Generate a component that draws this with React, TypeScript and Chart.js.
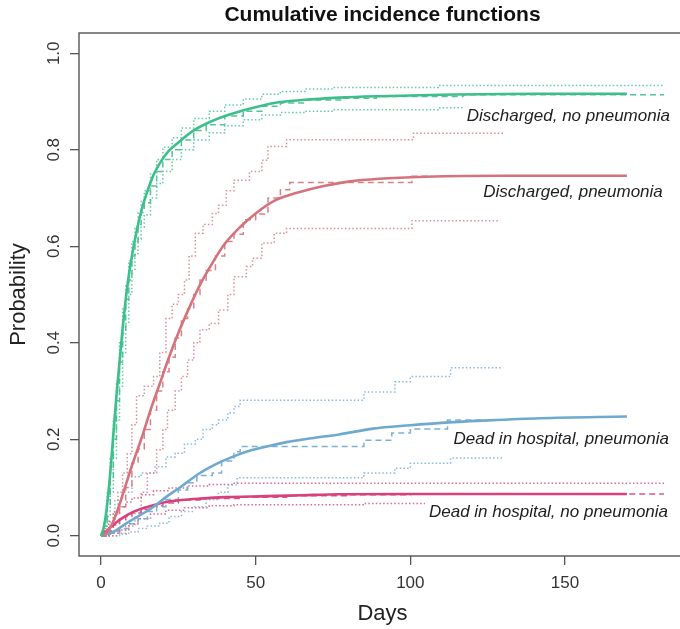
import { useEffect, useRef } from 'react';
import { Chart, registerables } from 'chart.js';

Chart.register(...registerables);

type Pt = [number, number];

const FONT = '"Liberation Sans", Arial, Helvetica, sans-serif';

const chartTitle = 'Cumulative incidence functions';
const xAxisTitle = 'Days';
const yAxisTitle = 'Probability';
const xTickValues = [0, 50, 100, 150];
const yTickValues = [0, 0.2, 0.4, 0.6, 0.8, 1.0];

// Discharged, no pneumonia (green)
const dischNoPneuModel: Pt[] = [[0,0],[1,0.02],[2,0.065],[3,0.13],[4,0.21],[5,0.29],[6,0.36],[7,0.43],[8,0.49],[9,0.54],[10,0.58],[11.5,0.63],[13,0.672],[14.8,0.71],[17,0.748],[19.6,0.778],[22,0.798],[25,0.815],[30,0.84],[35,0.857],[41,0.872],[48,0.885],[56,0.897],[65,0.903],[77,0.908],[90,0.911],[110,0.914],[140,0.916],[170,0.916]];
const dischNoPneuAJ: Pt[] = [[0,0],[1,0.02],[2,0.06],[3,0.12],[4,0.2],[5,0.28],[6,0.36],[7,0.42],[8,0.49],[9,0.53],[10,0.58],[11,0.61],[12,0.645],[13,0.67],[14,0.69],[16,0.725],[18,0.755],[20,0.78],[23,0.8],[26,0.82],[30,0.84],[34,0.852],[40,0.87],[46,0.88],[52,0.89],[58,0.897],[66,0.903],[78,0.907],[89,0.9105],[117,0.914],[182,0.914]];
const dischNoPneuUpper: Pt[] = [[0,0],[1,0.03],[2,0.09],[3,0.16],[4,0.24],[5,0.32],[6,0.4],[7,0.47],[8,0.52],[9,0.57],[10,0.61],[11,0.64],[12,0.67],[13,0.695],[14,0.715],[16,0.75],[18,0.78],[20,0.805],[23,0.825],[26,0.845],[30,0.865],[35,0.88],[40,0.893],[46,0.905],[52,0.915],[58,0.921],[66,0.926],[75,0.929],[109,0.933],[182,0.933]];
const dischNoPneuLower: Pt[] = [[0,0],[1,0.005],[2,0.04],[3,0.09],[4,0.16],[5,0.24],[6,0.31],[7,0.38],[8,0.44],[9,0.5],[10,0.55],[11,0.585],[12,0.615],[13,0.64],[14,0.665],[16,0.7],[18,0.73],[20,0.755],[23,0.78],[26,0.8],[30,0.82],[35,0.835],[40,0.85],[46,0.862],[52,0.872],[58,0.877],[66,0.88],[75,0.883],[109,0.887],[182,0.887]];

// Discharged, pneumonia (red)
const dischPneuModel: Pt[] = [[0,0],[2,0.008],[4,0.03],[6,0.065],[8,0.105],[10,0.145],[13,0.2],[16,0.26],[19,0.315],[22,0.37],[25,0.42],[28,0.465],[32,0.52],[36,0.565],[40,0.605],[45,0.64],[50,0.668],[56,0.694],[64,0.712],[72,0.725],[80,0.734],[90,0.74],[105,0.744],[130,0.746],[170,0.746]];
const dischPneuAJ: Pt[] = [[0,0],[3,0.01],[6,0.06],[8,0.1],[10,0.15],[12,0.18],[14,0.22],[16,0.26],[18,0.3],[20,0.34],[22,0.37],[24,0.41],[26,0.45],[28,0.47],[30,0.5],[32,0.53],[34,0.55],[37,0.58],[40,0.61],[43,0.625],[46,0.655],[50,0.667],[54,0.7],[58,0.717],[61,0.732],[100.5,0.745],[107,0.745]];
const dischPneuUpper: Pt[] = [[0,0],[2.5,0.02],[4,0.05],[5.5,0.09],[7,0.13],[8.5,0.17],[10,0.23],[11.5,0.29],[14,0.31],[17,0.33],[19,0.38],[21,0.45],[23,0.48],[25,0.5],[27,0.53],[28.5,0.58],[30.5,0.627],[33,0.645],[36,0.668],[38,0.685],[40.5,0.715],[43,0.737],[48,0.755],[52,0.778],[54,0.807],[60,0.821],[101,0.834],[130,0.834]];
const dischPneuLower: Pt[] = [[0,0],[5,0.005],[8,0.02],[11,0.05],[13,0.09],[15,0.13],[18,0.178],[20,0.22],[21.5,0.26],[24,0.3],[26,0.33],[28,0.364],[30,0.4],[32,0.427],[35,0.44],[38,0.468],[41,0.5],[43,0.537],[47,0.558],[49,0.575],[52,0.607],[56,0.627],[60,0.637],[100.5,0.653],[129,0.653]];

// Dead in hospital, pneumonia (blue)
const deadPneuModel: Pt[] = [[0,0],[4,0.008],[8.3,0.026],[12,0.04],[17,0.06],[21,0.08],[25.5,0.1],[32,0.13],[37,0.148],[42.7,0.164],[48,0.176],[53.6,0.185],[60,0.194],[68,0.202],[77,0.21],[88,0.222],[100,0.229],[110,0.234],[125,0.239],[142,0.2435],[170,0.247]];
const deadPneuAJ: Pt[] = [[0,0],[3,0.005],[6,0.015],[9,0.025],[12,0.035],[15,0.05],[18,0.06],[21,0.075],[25,0.095],[28,0.11],[31,0.125],[36,0.13],[39,0.155],[43,0.174],[45,0.185],[85,0.198],[94,0.213],[100,0.221],[112,0.24],[130,0.24]];
const deadPneuUpper: Pt[] = [[0,0],[2,0.01],[3,0.03],[4.5,0.074],[7,0.09],[10,0.122],[13,0.13],[17.5,0.143],[21,0.163],[24,0.171],[27,0.19],[30.5,0.2],[33,0.22],[36,0.23],[38,0.24],[41,0.255],[43,0.268],[45,0.281],[85,0.298],[95,0.319],[100,0.33],[113,0.348],[130,0.348]];
const deadPneuLower: Pt[] = [[0,0],[6,0.003],[9,0.008],[12,0.015],[15,0.02],[19,0.026],[22,0.04],[26,0.05],[29.5,0.06],[34,0.075],[38,0.09],[41,0.105],[44,0.12],[85,0.13],[95,0.14],[100,0.15],[113,0.161],[130,0.161]];

// Dead in hospital, no pneumonia (pink)
const deadNoPneuModel: Pt[] = [[0,0],[1.5,0.008],[3,0.017],[5,0.028],[7,0.037],[9,0.045],[11,0.051],[14,0.058],[18,0.065],[21,0.07],[26,0.074],[32,0.077],[40,0.08],[53.6,0.082],[65,0.084],[77,0.086],[100,0.0865],[170,0.0865]];
const deadNoPneuAJ: Pt[] = [[0,0],[2,0.01],[4,0.022],[6,0.033],[8,0.04],[10,0.047],[13,0.055],[16,0.062],[20,0.068],[25,0.074],[32,0.077],[45,0.08],[60,0.083],[80,0.085],[100,0.0865],[182,0.0865]];
const deadNoPneuUpper: Pt[] = [[0,0],[1,0.015],[2.5,0.03],[4,0.045],[6,0.06],[8,0.07],[10,0.078],[13,0.085],[17,0.093],[22,0.099],[28,0.103],[35,0.106],[43,0.109],[182,0.109]];
const deadNoPneuLower: Pt[] = [[0,0],[3,0.005],[6,0.012],[9,0.025],[12,0.035],[16,0.045],[21,0.053],[27,0.058],[35,0.062],[43,0.064],[85,0.067],[182,0.067]];

const curveLabels = ['Discharged, no pneumonia', 'Discharged, pneumonia', 'Dead in hospital, pneumonia', 'Dead in hospital, no pneumonia'];
// right end / baseline of each label, in data units
const labelAnchors: Pt[] = [[183.9, 0.8586], [181.6, 0.7027], [183.6, 0.1894], [183.3, 0.0381]];

const GREEN = '#3dbf8c';
const RED = '#d4737c';
const BLUE = '#6ea9cf';
const PINK = '#d8417c';

function alpha(hex: string, a: number) {
  const n = parseInt(hex.slice(1), 16);
  return `rgba(${(n >> 16) & 255},${(n >> 8) & 255},${n & 255},${a})`;
}

function toXY(arr: Pt[]) {
  return arr.map(([x, y]) => ({ x, y }));
}

function model(arr: Pt[], color: string) {
  return {
    data: toXY(arr), borderColor: color, borderWidth: 2.6, pointRadius: 0,
    cubicInterpolationMode: 'monotone' as const, fill: false,
  };
}
function aj(arr: Pt[], color: string) {
  return {
    data: toXY(arr), borderColor: alpha(color, 0.9), borderWidth: 1.5, pointRadius: 0,
    stepped: true, borderDash: [6, 4], fill: false,
  };
}
function ci(arr: Pt[], color: string) {
  return {
    data: toXY(arr), borderColor: alpha(color, 0.8), borderWidth: 1.5, pointRadius: 0,
    stepped: true, borderDash: [1.5, 2.2], fill: false,
  };
}

const decorPlugin = {
  id: 'decor',
  afterDatasetsDraw(chart: any) {
    const { ctx, scales } = chart;
    const xs = scales.x, ys = scales.y;
    ctx.save();
    ctx.font = `italic 17px ${FONT}`;
    ctx.textBaseline = 'alphabetic';
    ctx.textAlign = 'right';
    curveLabels.forEach((t, i) => {
      const px = xs.getPixelForValue(labelAnchors[i][0]);
      const py = ys.getPixelForValue(labelAnchors[i][1]);
      const w = ctx.measureText(t).width;
      ctx.fillStyle = '#ffffff';
      ctx.fillRect(px - w - 4, py - 16, w + 8, 21);
      ctx.fillStyle = '#1e1e1e';
      ctx.fillText(t, px, py);
    });
    ctx.restore();
  },
  afterDraw(chart: any) {
    const { ctx, chartArea } = chart;
    ctx.save();
    ctx.strokeStyle = '#555555';
    ctx.lineWidth = 1.4;
    ctx.strokeRect(chartArea.left, chartArea.top, chartArea.right - chartArea.left, chartArea.bottom - chartArea.top);
    ctx.fillStyle = '#111111';
    ctx.font = `bold 21px ${FONT}`;
    ctx.textAlign = 'center';
    ctx.textBaseline = 'middle';
    ctx.fillText(chartTitle, (chartArea.left + chartArea.right) / 2, 15);
    ctx.restore();
  },
};

export default function App() {
  const ref = useRef<HTMLCanvasElement>(null);
  useEffect(() => {
    if (!ref.current) return;
    const chart = new Chart(ref.current, {
      type: 'line',
      data: {
        datasets: [
          model(dischNoPneuModel, GREEN), model(dischPneuModel, RED), model(deadPneuModel, BLUE), model(deadNoPneuModel, PINK),
          aj(dischNoPneuAJ, GREEN), aj(dischPneuAJ, RED), aj(deadPneuAJ, BLUE), aj(deadNoPneuAJ, PINK),
          ci(dischNoPneuUpper, GREEN), ci(dischNoPneuLower, GREEN),
          ci(dischPneuUpper, RED), ci(dischPneuLower, RED),
          ci(deadPneuUpper, BLUE), ci(deadPneuLower, BLUE),
          ci(deadNoPneuUpper, PINK), ci(deadNoPneuLower, PINK),
        ] as any,
      },
      options: {
        responsive: false,
        animation: false,
        devicePixelRatio: 1,
        layout: { padding: { left: 0, top: 33, right: 4, bottom: 0 } },
        plugins: { legend: { display: false }, tooltip: { enabled: false }, title: { display: false } },
        scales: {
          x: {
            type: 'linear', min: -7.1, max: 189.1,
            afterBuildTicks: (s: any) => { s.ticks = xTickValues.map((v) => ({ value: v })); },
            afterFit: (s: any) => { s.height = 73; },
            grid: { drawOnChartArea: false, drawTicks: true, tickLength: 9, color: '#555555', lineWidth: 1.3 },
            border: { display: false },
            ticks: { font: { family: FONT, size: 17 }, color: '#333333', padding: 8, maxRotation: 0, callback: (v: any) => String(v) },
            title: { display: true, text: xAxisTitle, font: { family: FONT, size: 22 }, color: '#222222', padding: { top: 0, bottom: 2 } },
          },
          y: {
            type: 'linear', min: -0.042, max: 1.042,
            afterBuildTicks: (s: any) => { s.ticks = yTickValues.map((v) => ({ value: v })); },
            afterFit: (s: any) => { s.width = 79; },
            grid: { drawOnChartArea: false, drawTicks: true, tickLength: 9, color: '#555555', lineWidth: 1.3 },
            border: { display: false },
            ticks: { font: { family: FONT, size: 17 }, color: '#333333', padding: 4, minRotation: 90, maxRotation: 90, crossAlign: 'center', callback: (v: any) => Number(v).toFixed(1) },
            title: { display: true, text: yAxisTitle, font: { family: FONT, size: 22 }, color: '#222222', padding: { top: 6, bottom: 0 } },
          },
        },
      } as any,
      plugins: [decorPlugin],
    });
    return () => chart.destroy();
  }, []);
  return (
    <div style={{ position: 'fixed', left: 0, top: 0, width: 680, height: 629, overflow: 'hidden', background: '#ffffff' }}>
      <canvas ref={ref} width={690} height={629} style={{ display: 'block', width: 690, height: 629 }} />
    </div>
  );
}
